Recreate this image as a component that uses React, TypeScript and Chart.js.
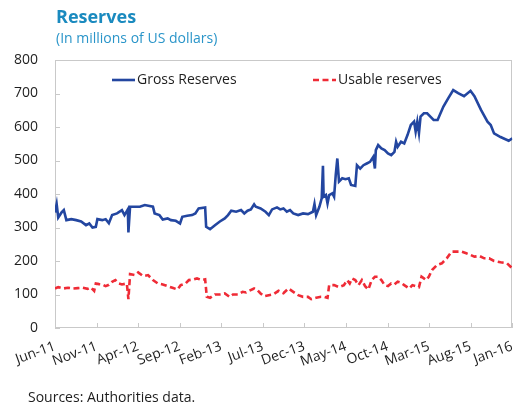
import React, { useEffect, useRef } from 'react';
import { Chart, registerables } from 'chart.js';

Chart.register(...registerables);

// Month index 0 = Jun-2011, tick every 5 months
const tickLabels = ['Jun-11', 'Nov-11', 'Apr-12', 'Sep-12', 'Feb-13', 'Jul-13', 'Dec-13', 'May-14', 'Oct-14', 'Mar-15', 'Aug-15', 'Jan-16'];
const seriesNames = ['Gross Reserves', 'Usable reserves'];

const grossMonths = [
  0, 0.2, 0.39, 0.79, 1.06, 1.37, 1.96, 2.55, 3.14, 3.73,
  4.12, 4.51, 4.91, 5.1, 5.69, 6.09, 6.48, 6.87, 7.46, 8.05,
  8.36, 8.76, 8.83, 9.03, 9.62, 10.21, 10.8, 11.78, 11.98, 12.56,
  12.96, 13.55, 13.94, 14.53, 15.04, 15.31, 15.9, 16.49, 16.88, 17.28,
  18.06, 18.18, 18.65, 19.24, 19.83, 20.42, 20.81, 21.2, 21.79, 22.38,
  22.77, 23.16, 23.56, 23.95, 24.15, 24.73, 25.32, 25.72, 26.11, 26.7,
  27.09, 27.48, 27.88, 28.27, 28.66, 29.25, 29.84, 30.43, 31.02, 31.21,
  31.41, 31.8, 32.08, 32.23, 32.31, 32.59, 32.78, 32.98, 33.37, 33.57,
  33.77, 33.96, 34.16, 34.55, 34.94, 35.34, 35.61, 36.12, 36.32, 36.71,
  37.1, 37.5, 37.89, 38.28, 38.48, 38.59, 38.87, 39.26, 39.65, 40.05,
  40.44, 40.83, 41.03, 41.22, 41.62, 42.01, 42.4, 42.8, 43.19, 43.38,
  43.58, 43.78, 43.97, 44.37, 44.76, 45.15, 45.54, 46.02, 46.72, 47.31,
  47.9, 48.49, 49.2, 49.98, 50.45, 51.24, 52.02, 52.41, 52.81, 53.59,
  54.57, 55,
];
const grossValues = [
  345, 370, 330, 345, 352, 322, 325, 322, 318, 307,
  312, 300, 302, 325, 322, 325, 313, 337, 342, 352,
  337, 354, 285, 362, 362, 362, 367, 362, 342, 337,
  324, 327, 322, 320, 312, 332, 335, 337, 342, 357,
  360, 302, 295, 307, 318, 327, 337, 350, 347, 352,
  342, 350, 354, 369, 362, 357, 347, 337, 354, 360,
  354, 357, 347, 352, 342, 337, 342, 340, 347, 370,
  337, 362, 387, 484, 392, 397, 372, 397, 402, 392,
  457, 506, 437, 447, 444, 447, 427, 424, 486, 476,
  486, 491, 496, 511, 476, 531, 546, 536, 531, 521,
  516, 526, 556, 541, 556, 551, 576, 606, 616, 586,
  616, 582, 631, 641, 641, 631, 621, 621, 661, 686,
  710, 701, 692, 708, 692, 651, 616, 606, 581, 570,
  559, 566,
];

const usableMonths = [
  0, 0.39, 0.98, 1.57, 2.16, 2.75, 3.34, 3.93, 4.32, 4.71,
  4.91, 5.3, 5.69, 6.09, 6.48, 6.87, 7.26, 7.66, 8.05, 8.64,
  8.83, 9.03, 9.62, 10.01, 10.6, 11.19, 11.78, 12.37, 12.96, 13.55,
  14.13, 14.72, 15.12, 15.7, 16.1, 16.69, 17.08, 17.67, 18.06, 18.26,
  18.65, 19.24, 19.83, 20.42, 21.01, 21.4, 21.99, 22.57, 22.97, 23.36,
  23.95, 24.34, 24.73, 25.12, 25.72, 26.3, 26.89, 27.48, 28.07, 28.66,
  29.25, 29.84, 30.43, 30.82, 31.41, 32.0, 32.39, 32.78, 32.98, 33.57,
  34.16, 34.75, 35.14, 35.45, 35.73, 36.12, 36.51, 36.91, 37.3, 37.69,
  38.09, 38.48, 38.87, 39.26, 39.65, 40.05, 40.44, 40.83, 41.22, 41.62,
  42.01, 42.6, 42.99, 43.38, 43.78, 44.09, 44.37, 44.64, 44.96, 45.35,
  45.94, 46.53, 47.12, 47.7, 48.29, 48.88, 49.47, 49.98, 50.45, 51.04,
  51.63, 52.22, 52.81, 53.59, 54.38, 55,
];
const usableValues = [
  118, 122, 118, 120, 118, 119, 120, 117, 121, 111,
  133, 131, 130, 125, 129, 138, 143, 133, 130, 133,
  86, 161, 158, 166, 155, 158, 143, 133, 130, 125,
  120, 115, 128, 133, 143, 145, 148, 143, 145, 93,
  90, 100, 100, 103, 93, 100, 100, 108, 106, 111,
  118, 113, 103, 95, 98, 101, 111, 104, 118, 108,
  98, 93, 93, 86, 90, 93, 93, 90, 128, 128,
  122, 128, 143, 133, 148, 143, 128, 143, 125, 115,
  143, 153, 153, 143, 128, 125, 133, 130, 138, 135,
  128, 118, 128, 125, 122, 153, 148, 143, 153, 173,
  188, 193, 208, 228, 228, 228, 223, 218, 213, 215,
  208, 208, 200, 196, 193, 178,
];

const FONT = '"Open Sans", "Noto Sans", "DejaVu Sans", sans-serif';
const AXIS_COLOR = '#c9c9c9';
const TEXT_COLOR = '#1e1e1e';

const framePlugin = {
  id: 'frame',
  beforeDatasetsDraw(chart: any) {
    const { ctx, chartArea: a, scales } = chart;
    ctx.save();
    ctx.strokeStyle = AXIS_COLOR;
    ctx.lineWidth = 1;
    ctx.strokeRect(Math.round(a.left) + 0.5, Math.round(a.top) + 0.5, Math.round(a.right - a.left) - 1, Math.round(a.bottom - a.top) - 1);
    ctx.beginPath();
    scales.y.ticks.forEach((t: any) => {
      const py = Math.round(scales.y.getPixelForValue(t.value)) + 0.5;
      ctx.moveTo(a.left, py);
      ctx.lineTo(a.left + 5, py);
    });
    scales.x.ticks.forEach((t: any) => {
      const px = Math.round(scales.x.getPixelForValue(t.value)) + 0.5;
      ctx.moveTo(px, a.bottom);
      ctx.lineTo(px, a.bottom - 5);
    });
    ctx.stroke();
    ctx.restore();
  },
  afterDatasetsDraw(chart: any) {
    const { ctx, chartArea: a } = chart;
    const offsets = [57, 258];
    const cy = a.top + 20;
    ctx.save();
    chart.data.datasets.forEach((ds: any, i: number) => {
      const x0 = a.left + offsets[i];
      ctx.beginPath();
      ctx.strokeStyle = ds.borderColor;
      ctx.lineWidth = ds.borderWidth;
      ctx.setLineDash(ds.borderDash || []);
      ctx.moveTo(x0, cy);
      ctx.lineTo(x0 + 23, cy);
      ctx.stroke();
      ctx.setLineDash([]);
      ctx.fillStyle = TEXT_COLOR;
      ctx.font = `14px ${FONT}`;
      ctx.textBaseline = 'middle';
      ctx.textAlign = 'left';
      ctx.fillText(ds.label, x0 + 25, cy);
    });
    ctx.restore();
  },
};

export default function App() {
  const ref = useRef<HTMLCanvasElement | null>(null);

  useEffect(() => {
    document.body.style.margin = '0';
    const canvas = ref.current;
    if (!canvas) return;
    const chart = new Chart(canvas, {
      type: 'line',
      data: {
        datasets: [
          {
            label: seriesNames[0],
            data: grossMonths.map((m, i) => ({ x: m, y: grossValues[i] })),
            borderColor: '#2346a0',
            borderWidth: 2.6,
            pointRadius: 0,
            tension: 0,
            fill: false,
          },
          {
            label: seriesNames[1],
            data: usableMonths.map((m, i) => ({ x: m, y: usableValues[i] })),
            borderColor: '#ef2b36',
            borderWidth: 2.6,
            borderDash: [6, 3.5],
            pointRadius: 0,
            tension: 0,
            fill: false,
          },
        ],
      },
      options: {
        responsive: false,
        animation: false,
        events: [],
        layout: { padding: { top: 60, right: 6, left: 0, bottom: 0 } },
        plugins: {
          legend: { display: false },
          tooltip: { enabled: false },
          title: { display: false },
        },
        scales: {
          x: {
            type: 'linear',
            min: 0,
            max: 55,
            grid: { display: false, drawTicks: false },
            border: { display: false },
            ticks: {
              stepSize: 5,
              autoSkip: false,
              maxRotation: 20,
              minRotation: 20,
              padding: 10,
              color: TEXT_COLOR,
              font: { family: FONT, size: 14 },
              callback: (v: any) => tickLabels[Math.round(Number(v) / 5)] ?? '',
            },
            afterFit: (s: any) => { s.height = 82; },
          },
          y: {
            min: 0,
            max: 800,
            grid: { display: false, drawTicks: false },
            border: { display: false },
            ticks: {
              stepSize: 100,
              padding: 17,
              color: TEXT_COLOR,
              font: { family: FONT, size: 14 },
            },
            afterFit: (s: any) => { s.width = 55; },
          },
        },
      },
      plugins: [framePlugin],
    });
    return () => chart.destroy();
  }, []);

  return (
    <div style={{ position: 'relative', width: 528, height: 410, background: '#fff', overflow: 'hidden' }}>
      <canvas ref={ref} width={528} height={410} style={{ position: 'absolute', left: 0, top: 0 }} />
      <div style={{ position: 'absolute', left: 56, top: 7, fontFamily: FONT, fontSize: 18, lineHeight: '18px', fontWeight: 700, color: '#1a8abf', whiteSpace: 'nowrap' }}>
        Reserves
      </div>
      <div style={{ position: 'absolute', left: 56, top: 31, fontFamily: FONT, fontSize: 14, lineHeight: '14px', color: '#2a95c9', whiteSpace: 'nowrap' }}>
        (In millions of US dollars)
      </div>
      <div style={{ position: 'absolute', left: 28, top: 390, fontFamily: FONT, fontSize: 14, lineHeight: '14px', color: TEXT_COLOR, whiteSpace: 'nowrap' }}>
        Sources: Authorities data.
      </div>
    </div>
  );
}
